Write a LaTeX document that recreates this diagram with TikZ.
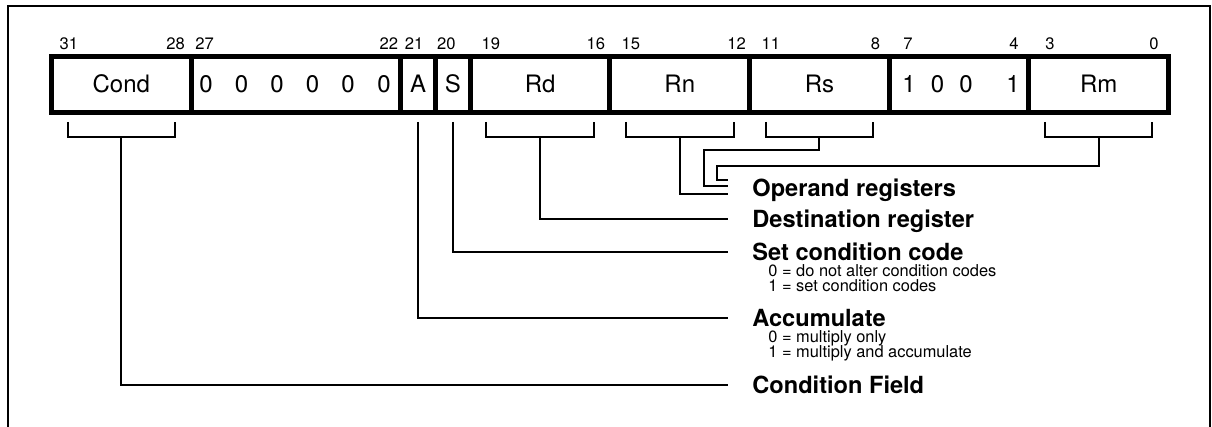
\documentclass[tikz,border=0pt]{standalone}
\usepackage{fontspec}
\setmainfont{TeX Gyre Heros}
\usepackage{tikz}
\usetikzlibrary{positioning}

\begin{document}
\begin{tikzpicture}[
            x=0.5pt, y=-0.5pt,
            cell/.style={draw, line width=2.5pt, minimum height=28pt, inner sep=0pt, outer sep=0pt,
                text height=8.5pt, text depth=0pt, font=\fontsize{12}{14}\selectfont},
            digit/.style={inner sep=0pt, text height=8.5pt, text depth=0pt, font=\fontsize{12}{14}\selectfont},
            bitno/.style={anchor=base, inner sep=0pt, font=\fontsize{8.3}{10}\selectfont},
            lbl/.style={anchor=west, inner ysep=0pt, inner xsep=12pt, text height=8.5pt, text depth=0pt,
                font=\bfseries\fontsize{11.8}{14}\selectfont},
            note/.style={anchor=west, inner sep=0pt, font=\fontsize{8.2}{10}\selectfont},
            wire/.style={line width=1pt},
        ]
            \useasboundingbox (0,0) rectangle (1212,427);
            \draw[line width=1pt] (8.3,427) -- (8.3,6) -- (1209.5,6) -- (1209.5,427);

            % instruction word
            \node[cell, minimum width=69.81pt, anchor=west] (cond) at (51.5,84.5) {Cond};
            \node[cell, minimum width=104.72pt, right=0pt of cond] (zeros) {};
            \node[cell, minimum width=17.453pt, right=0pt of zeros] (abit) {A};
            \node[cell, minimum width=17.453pt, right=0pt of abit] (sbit) {S};
            \node[cell, minimum width=69.81pt, right=0pt of sbit] (rd) {Rd};
            \node[cell, minimum width=69.81pt, right=0pt of rd] (rn) {Rn};
            \node[cell, minimum width=69.81pt, right=0pt of rn] (rs) {Rs};
            \node[cell, minimum width=69.81pt, right=0pt of rs] (mulop) {};
            \node[cell, minimum width=69.81pt, right=0pt of mulop] (rm) {Rm};

            \node[digit] (zero1) at (206,84.5) {0};
            \node[digit] (zero2) at (241.5,84.5) {0};
            \node[digit] (zero3) at (277,84.5) {0};
            \node[digit] (zero4) at (312.5,84.5) {0};
            \node[digit] (zero5) at (348,84.5) {0};
            \node[digit] (zero6) at (384,84.5) {0};
            \node[digit] (mul1) at (909,84.5) {1};
            \node[digit] (mul2) at (937.5,84.5) {0};
            \node[digit] (mul3) at (966,84.5) {0};
            \node[digit] (mul4) at (1013,84.5) {1};

            % bit numbers
            \node[bitno] (b31) at (68.9,49.3) {31};
            \node[bitno] (b28) at (175.5,49.3) {28};
            \node[bitno] (b27) at (204.7,49.3) {27};
            \node[bitno] (b22) at (388.8,49.3) {22};
            \node[bitno] (b21) at (414.2,49.3) {21};
            \node[bitno] (b20) at (446.4,49.3) {20};
            \node[bitno] (b19) at (490.8,49.3) {19};
            \node[bitno] (b16) at (595.8,49.3) {16};
            \node[bitno] (b15) at (630.8,49.3) {15};
            \node[bitno] (b12) at (736.7,49.3) {12};
            \node[bitno] (b11) at (770.8,49.3) {11};
            \node[bitno] (b8) at (875.5,49.3) {8};
            \node[bitno] (b7) at (908,49.3) {7};
            \node[bitno] (b4) at (1014,49.3) {4};
            \node[bitno] (b3) at (1050,49.3) {3};
            \node[bitno] (b0) at (1154,49.3) {0};

            % field names
            \node[lbl] (operand) at (728,188) {Operand registers};
            \node[lbl] (dest) at (728,219.3) {Destination register};
            \node[lbl] (setcc) at (728,252) {Set condition code};
            \node[note] (setcc0) at (768,271) {0 = do not alter condition codes};
            \node[note] (setcc1) at (768,286) {1 = set condition codes};
            \node[lbl] (accum) at (728,318.3) {Accumulate};
            \node[note] (accum0) at (768,338) {0 = multiply only};
            \node[note] (accum1) at (768,353) {1 = multiply and accumulate};
            \node[lbl] (condfld) at (728,385) {Condition Field};

            % brackets
            \draw[wire] ([xshift=8pt,yshift=-4.75pt]cond.south west) -- ++(0,15) -| ([xshift=-8pt,yshift=-4.75pt]cond.south east);
            \draw[wire] ([xshift=8pt,yshift=-4.75pt]rd.south west) -- ++(0,15) -| ([xshift=-8pt,yshift=-4.75pt]rd.south east);
            \draw[wire] ([xshift=8pt,yshift=-4.75pt]rn.south west) -- ++(0,15) -| ([xshift=-8pt,yshift=-4.75pt]rn.south east);
            \draw[wire] ([xshift=8pt,yshift=-4.75pt]rs.south west) -- ++(0,15) -| ([xshift=-8pt,yshift=-4.75pt]rs.south east);
            \draw[wire] ([xshift=8pt,yshift=-4.75pt]rm.south west) -- ++(0,15) -| ([xshift=-8pt,yshift=-4.75pt]rm.south east);

            % connectors
            \draw[wire] ([yshift=-12.25pt]rm.south) -- ++(0,28.7) -| ([xshift=-5.65pt,yshift=4pt]operand.west) -- ([yshift=4pt]operand.west);
            \draw[wire] ([yshift=-12.25pt]rs.south) -- ++(0,13) -| ([xshift=-11.85pt,yshift=1pt]operand.west) -- ([yshift=1pt]operand.west);
            \draw[wire] ([yshift=-12.25pt]rn.south) |- ([yshift=-3pt]operand.west);
            \draw[wire] ([yshift=-12.25pt]rd.south) |- (dest.west);
            \draw[wire] ([yshift=-4.75pt]sbit.south) |- (setcc.west);
            \draw[wire] ([yshift=-4.75pt]abit.south) |- (accum.west);
            \draw[wire] ([yshift=-12.25pt]cond.south) |- (condfld.west);
        \end{tikzpicture}
\end{document}
